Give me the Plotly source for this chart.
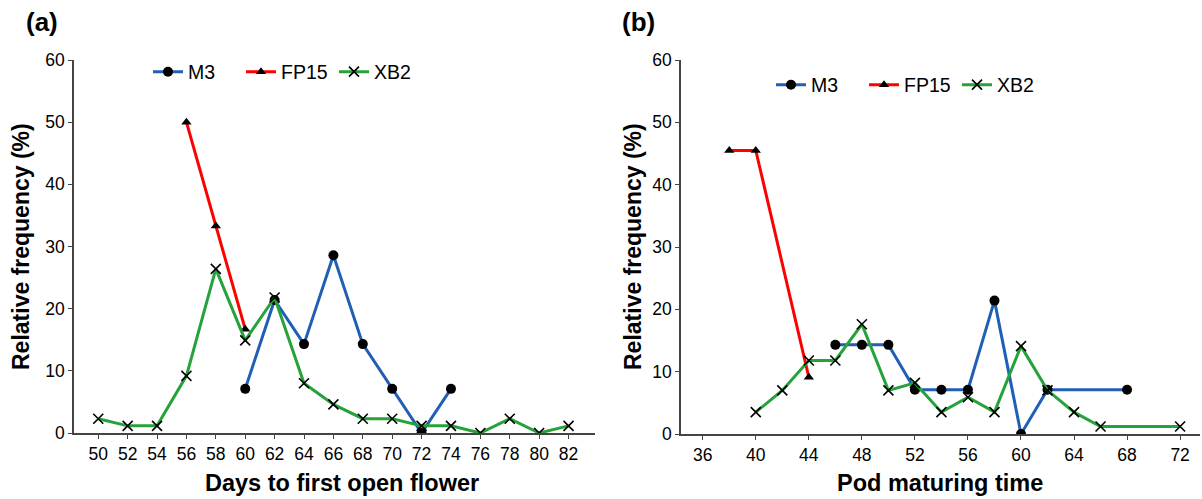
import plotly.graph_objects as go

# ---- Panel (a): Days to first open flower ----
a_m3_x = [60, 62, 64, 66, 68, 70, 72, 74]
a_m3_y = [7.1, 21.4, 14.3, 28.6, 14.3, 7.1, 0, 7.1]
a_fp15_x = [56, 58, 60]
a_fp15_y = [50.0, 33.3, 16.7]
a_xb2_x = [50, 52, 54, 56, 58, 60, 62, 64, 66, 68, 70, 72, 74, 76, 78, 80, 82]
a_xb2_y = [2.3, 1.15, 1.15, 9.2, 26.4, 14.9, 21.8, 8.0, 4.6, 2.3, 2.3, 1.15, 1.15, 0, 2.3, 0, 1.15]
a_ticks = list(range(50, 84, 2))

# ---- Panel (b): Pod maturing time ----
b_m3_x = [46, 48, 50, 52, 54, 56, 58, 60, 62, 68]
b_m3_y = [14.3, 14.3, 14.3, 7.1, 7.1, 7.1, 21.4, 0, 7.1, 7.1]
b_fp15_x = [38, 40, 44]
b_fp15_y = [45.5, 45.5, 9.1]
b_xb2_x = [40, 42, 44, 46, 48, 50, 52, 54, 56, 58, 60, 62, 64, 66, 72]
b_xb2_y = [3.5, 7.0, 11.8, 11.8, 17.6, 7.0, 8.2, 3.5, 5.9, 3.5, 14.1, 7.0, 3.5, 1.2, 1.2]
b_ticks = list(range(36, 76, 4))

y_ticks = [0, 10, 20, 30, 40, 50, 60]

BLUE = "#1F5FB5"
RED = "#FF0000"
GREEN = "#25A23A"
W, H = 1202, 499
FONT = "Liberation Sans, Arial, sans-serif"

fig = go.Figure()

def add_series(xs, ys, name, color, symbol, xa, ya, legend, rank):
    if symbol == "x-thin":
        marker = dict(symbol="x-thin", size=10, color="black", line=dict(color="black", width=1.6))
    elif symbol == "circle":
        marker = dict(symbol="circle", size=10, color="black")
    else:
        marker = dict(symbol="triangle-up", size=9, color="black")
    fig.add_trace(go.Scatter(x=xs, y=ys, name=name, mode="lines+markers",
                             line=dict(color=color, width=3), marker=marker,
                             xaxis=xa, yaxis=ya, legend=legend, legendrank=rank))

add_series(a_m3_x, a_m3_y, "M3", BLUE, "circle", "x", "y", "legend", 1)
add_series(a_fp15_x, a_fp15_y, "FP15", RED, "triangle", "x", "y", "legend", 2)
add_series(a_xb2_x, a_xb2_y, "XB2", GREEN, "x-thin", "x", "y", "legend", 3)
add_series(b_m3_x, b_m3_y, "M3", BLUE, "circle", "x2", "y2", "legend2", 1)
add_series(b_fp15_x, b_fp15_y, "FP15", RED, "triangle", "x2", "y2", "legend2", 2)
add_series(b_xb2_x, b_xb2_y, "XB2", GREEN, "x-thin", "x2", "y2", "legend2", 3)

def px_x(p):
    return p / W

def px_y(p):
    return 1 - p / H

axis_common = dict(showline=True, linecolor="#444", linewidth=1.5, ticks="outside",
                   ticklen=4, tickcolor="#444", showgrid=False, zeroline=False,
                   tickfont=dict(size=17.5, color="black", family=FONT), automargin=False)

fig.update_layout(
    width=W, height=H,
    margin=dict(l=0, r=0, t=0, b=0),
    paper_bgcolor="white", plot_bgcolor="white",
    font=dict(family=FONT, color="black"),
    xaxis=dict(domain=[px_x(74), px_x(595)], range=[48.35, 83.8], tickvals=a_ticks,
               anchor="y", **axis_common),
    yaxis=dict(domain=[px_y(433), px_y(60)], range=[0, 60], tickvals=y_ticks,
               anchor="x", **axis_common),
    xaxis2=dict(domain=[px_x(681), px_x(1200)], range=[34.36, 73.5], tickvals=b_ticks,
                anchor="y2", **axis_common),
    yaxis2=dict(domain=[px_y(434), px_y(60)], range=[0, 60], tickvals=y_ticks,
                anchor="x2", **axis_common),
    legend=dict(orientation="h", x=px_x(148), y=px_y(72), xanchor="left", yanchor="middle",
                font=dict(size=19.5, family=FONT), bgcolor="rgba(0,0,0,0)", traceorder="normal",
                entrywidth=48, entrywidthmode="pixels"),
    legend2=dict(orientation="h", x=px_x(771), y=px_y(85), xanchor="left", yanchor="middle",
                 font=dict(size=19.5, family=FONT), bgcolor="rgba(0,0,0,0)", traceorder="normal",
                 entrywidth=48, entrywidthmode="pixels"),
    showlegend=True,
)

ann = [
    dict(text="<b>(a)</b>", x=px_x(24), y=px_y(22), xanchor="left", yanchor="middle", font=dict(size=26)),
    dict(text="<b>(b)</b>", x=px_x(620), y=px_y(22), xanchor="left", yanchor="middle", font=dict(size=26)),
    dict(text="<b>Relative frequency (%)</b>", x=px_x(21), y=px_y(247), textangle=-90,
         xanchor="center", yanchor="middle", font=dict(size=23)),
    dict(text="<b>Relative frequency (%)</b>", x=px_x(633), y=px_y(247), textangle=-90,
         xanchor="center", yanchor="middle", font=dict(size=23)),
    dict(text="<b>Days to first open flower</b>", x=px_x(342), y=px_y(483),
         xanchor="center", yanchor="middle", font=dict(size=23.5)),
    dict(text="<b>Pod maturing time</b>", x=px_x(940), y=px_y(483),
         xanchor="center", yanchor="middle", font=dict(size=23.5)),
]
for a in ann:
    a.update(xref="paper", yref="paper", showarrow=False)
    a["font"] = dict(size=a["font"]["size"], family=FONT, color="black")
fig.update_layout(annotations=ann)

fig.write_html("out.html")
